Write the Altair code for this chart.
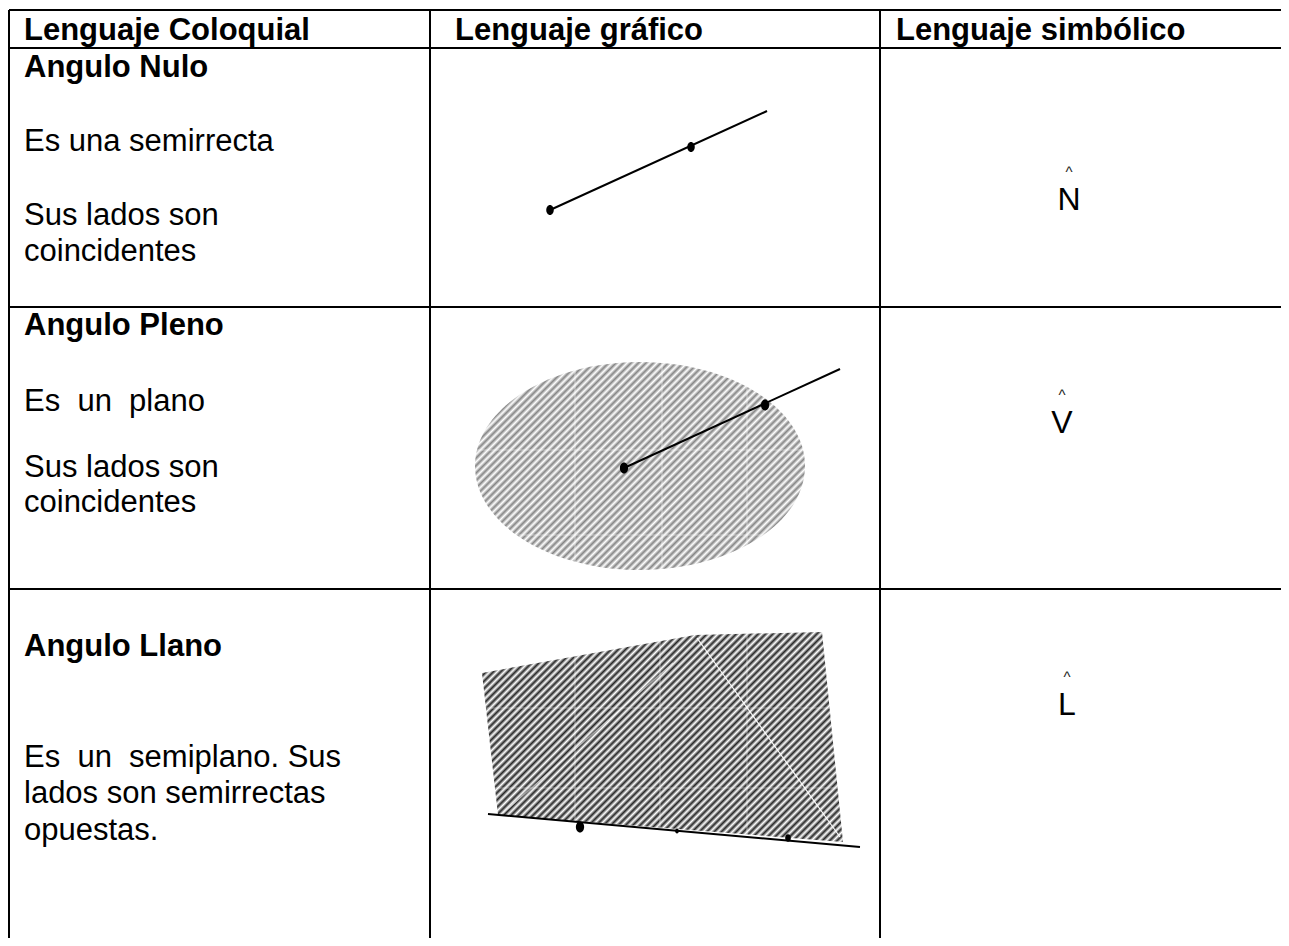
import altair as alt
import pandas as pd

# ---------------- canvas (reference pixel space) ----------------
W, H = 1273, 930
OX, OY = 8, 8

# ---------------- table grid ----------------
h_rule_y = [10, 48, 307, 589]
h_rule_x = [9, 1289]
v_rule_x = [9, 430, 880]
v_rule_y = [10, 946]

# ---------------- texts ----------------
bold_text = ["Lenguaje Coloquial", "Lenguaje gráfico", "Lenguaje simbólico",
             "Angulo Nulo", "Angulo Pleno", "Angulo Llano"]
bold_x = [24, 455, 896, 24, 24, 24]
bold_y = [40, 40, 40, 77, 335, 656]

body_text = ["Es una semirrecta", "Sus lados son", "coincidentes",
             "Es\u00a0 un\u00a0 plano", "Sus lados son", "coincidentes",
             "Es\u00a0 un\u00a0 semiplano. Sus", "lados son semirrectas", "opuestas."]
body_x = [24] * 9
body_y = [151, 225, 261, 411, 477, 512, 767, 803, 840]

symbol_text = ["N", "V", "L"]
symbol_x = [1069, 1062, 1067]
symbol_y = [210, 433, 715]
caret_x = [1069, 1062, 1067]
caret_y = [177, 400, 682]

# ---------------- figures ----------------
# Angulo Nulo: ray
nulo_seg = dict(x=[550], y=[210], x2=[767], y2=[111])
# Angulo Pleno: plane (ellipse) and ray
pleno_center = dict(x=[640], y=[466])
pleno_rx, pleno_ry = 165, 104
pleno_seg = dict(x=[624], y=[468], x2=[840], y2=[369])
# Angulo Llano: half-plane (polygon) and line
llano_poly_x = [482, 695, 822, 843, 498]
llano_poly_y = [673, 635, 632, 842, 815]
llano_seg = dict(x=[488], y=[814], x2=[860], y2=[847])

# points on the rays / line
dot_x = [550, 691, 624, 765, 580, 677, 788]
dot_y = [210, 147, 468, 405, 827, 831, 838]
dot_r = [5, 5, 5.5, 5.5, 5.5, 2.5, 3.8]

# faint white artefact lines inside the hatched figures
art_x = [697, 673, 575, 662, 747, 475, 475, 575, 660, 747, 482, 482]
art_y = [638, 663, 362, 362, 362, 450, 535, 632, 632, 632, 708, 788]
art_x2 = [840, 503, 575, 662, 747, 805, 805, 575, 660, 747, 843, 843]
art_y2 = [837, 813, 570, 570, 570, 450, 535, 842, 842, 842, 708, 788]
art_op = [0.95, 0.55, 0.45, 0.45, 0.45, 0.45, 0.45, 0.4, 0.4, 0.4, 0.4, 0.4]

# ---------------- helpers ----------------
xs = alt.Scale(domain=[OX, OX + W], nice=False, zero=False)
ys = alt.Scale(domain=[OY, OY + H], nice=False, zero=False, reverse=True)


def X(f="x"):
    return alt.X(f"{f}:Q", scale=xs, axis=None)


def Y(f="y"):
    return alt.Y(f"{f}:Q", scale=ys, axis=None)


def stripes(n, dark, light):
    st = []
    for i in range(n):
        st.append(alt.GradientStop(color=dark, offset=i / n))
        st.append(alt.GradientStop(color=light, offset=(i + 0.5) / n))
    st.append(alt.GradientStop(color=dark, offset=1.0))
    return st


def hatch(w, h, period, dark, light):
    k = (w + h) / (w * w + h * h)
    n = int(round((w + h) / 2 ** 0.5 / period))
    return alt.LinearGradient(gradient="linear", stops=stripes(n, dark, light),
                              x1=0, y1=0, x2=k * w, y2=k * h)


# ---------------- layers ----------------
hr = pd.DataFrame({"x": h_rule_x[0], "x2": h_rule_x[1], "y": h_rule_y, "y2": h_rule_y})
vr = pd.DataFrame({"x": v_rule_x, "x2": v_rule_x, "y": v_rule_y[0], "y2": v_rule_y[1]})
grid = alt.layer(
    alt.Chart(hr).mark_rule(color="black", strokeWidth=2, clip=True).encode(
        x=X(), x2="x2:Q", y=Y(), y2="y2:Q"),
    alt.Chart(vr).mark_rule(color="black", strokeWidth=2, clip=True).encode(
        x=X(), x2="x2:Q", y=Y(), y2="y2:Q"),
)

ell_shape = f"M-1,0A1,{pleno_ry / pleno_rx:.4f},0,1,1,1,0A1,{pleno_ry / pleno_rx:.4f},0,1,1,-1,0Z"
ellipse = alt.Chart(pd.DataFrame(pleno_center)).mark_point(
    shape=ell_shape, size=(2 * pleno_rx) ** 2, filled=True, opacity=1,
    fill=hatch(2 * pleno_rx, 2 * pleno_ry, 5.3, "#858585", "#ffffff"),
    strokeWidth=0,
).encode(x=X(), y=Y())

poly_df = pd.DataFrame({"x": llano_poly_x, "y": llano_poly_y,
                        "o": list(range(len(llano_poly_x)))})
pw = max(llano_poly_x) - min(llano_poly_x)
ph = max(llano_poly_y) - min(llano_poly_y)
polygon = alt.Chart(poly_df).mark_line(
    fill=hatch(pw, ph, 5.2, "#262626", "#ffffff"), strokeWidth=0, strokeOpacity=0,
).encode(x=X(), y=Y(), order="o:Q")

art_df = pd.DataFrame({"x": art_x, "y": art_y, "x2": art_x2, "y2": art_y2, "op": art_op})
artefacts = alt.Chart(art_df).mark_rule(color="white", strokeWidth=1.2).encode(
    x=X(), y=Y(), x2="x2:Q", y2="y2:Q", opacity=alt.Opacity("op:Q", scale=None))

segs = pd.concat([pd.DataFrame(nulo_seg), pd.DataFrame(pleno_seg), pd.DataFrame(llano_seg)])
rays = alt.Chart(segs).mark_rule(color="black", strokeWidth=2).encode(
    x=X(), y=Y(), x2="x2:Q", y2="y2:Q")

dot_shape = "M0,-1A0.75,1,0,1,1,0,1A0.75,1,0,1,1,0,-1Z"
dots_df = pd.DataFrame({"x": dot_x, "y": dot_y, "s": [(2 * r) ** 2 for r in dot_r]})
dots = alt.Chart(dots_df).mark_point(shape=dot_shape, filled=True, color="black", opacity=1).encode(
    x=X(), y=Y(), size=alt.Size("s:Q", scale=None))

FONT = "Liberation Sans"
bold = alt.Chart(pd.DataFrame({"t": bold_text, "x": bold_x, "y": bold_y})).mark_text(
    align="left", baseline="alphabetic", font=FONT, fontSize=31, fontWeight="bold", color="black"
).encode(x=X(), y=Y(), text="t:N")
body = alt.Chart(pd.DataFrame({"t": body_text, "x": body_x, "y": body_y})).mark_text(
    align="left", baseline="alphabetic", font=FONT, fontSize=31, color="black"
).encode(x=X(), y=Y(), text="t:N")
symbols = alt.Chart(pd.DataFrame({"t": symbol_text, "x": symbol_x, "y": symbol_y})).mark_text(
    align="center", baseline="alphabetic", font=FONT, fontSize=32, color="black"
).encode(x=X(), y=Y(), text="t:N")
carets = alt.Chart(pd.DataFrame({"t": ["^"] * 3, "x": caret_x, "y": caret_y})).mark_text(
    align="center", baseline="alphabetic", font=FONT, fontSize=15, color="#222222"
).encode(x=X(), y=Y(), text="t:N")

chart = alt.layer(grid, ellipse, polygon, artefacts, rays, dots, bold, body, symbols, carets).properties(
    width=W, height=H, padding=0, autosize=alt.AutoSizeParams(type="none"),
    background="white",
).configure_view(strokeWidth=0)

chart.save("out.html", embed_options={"renderer": "svg", "actions": False})
